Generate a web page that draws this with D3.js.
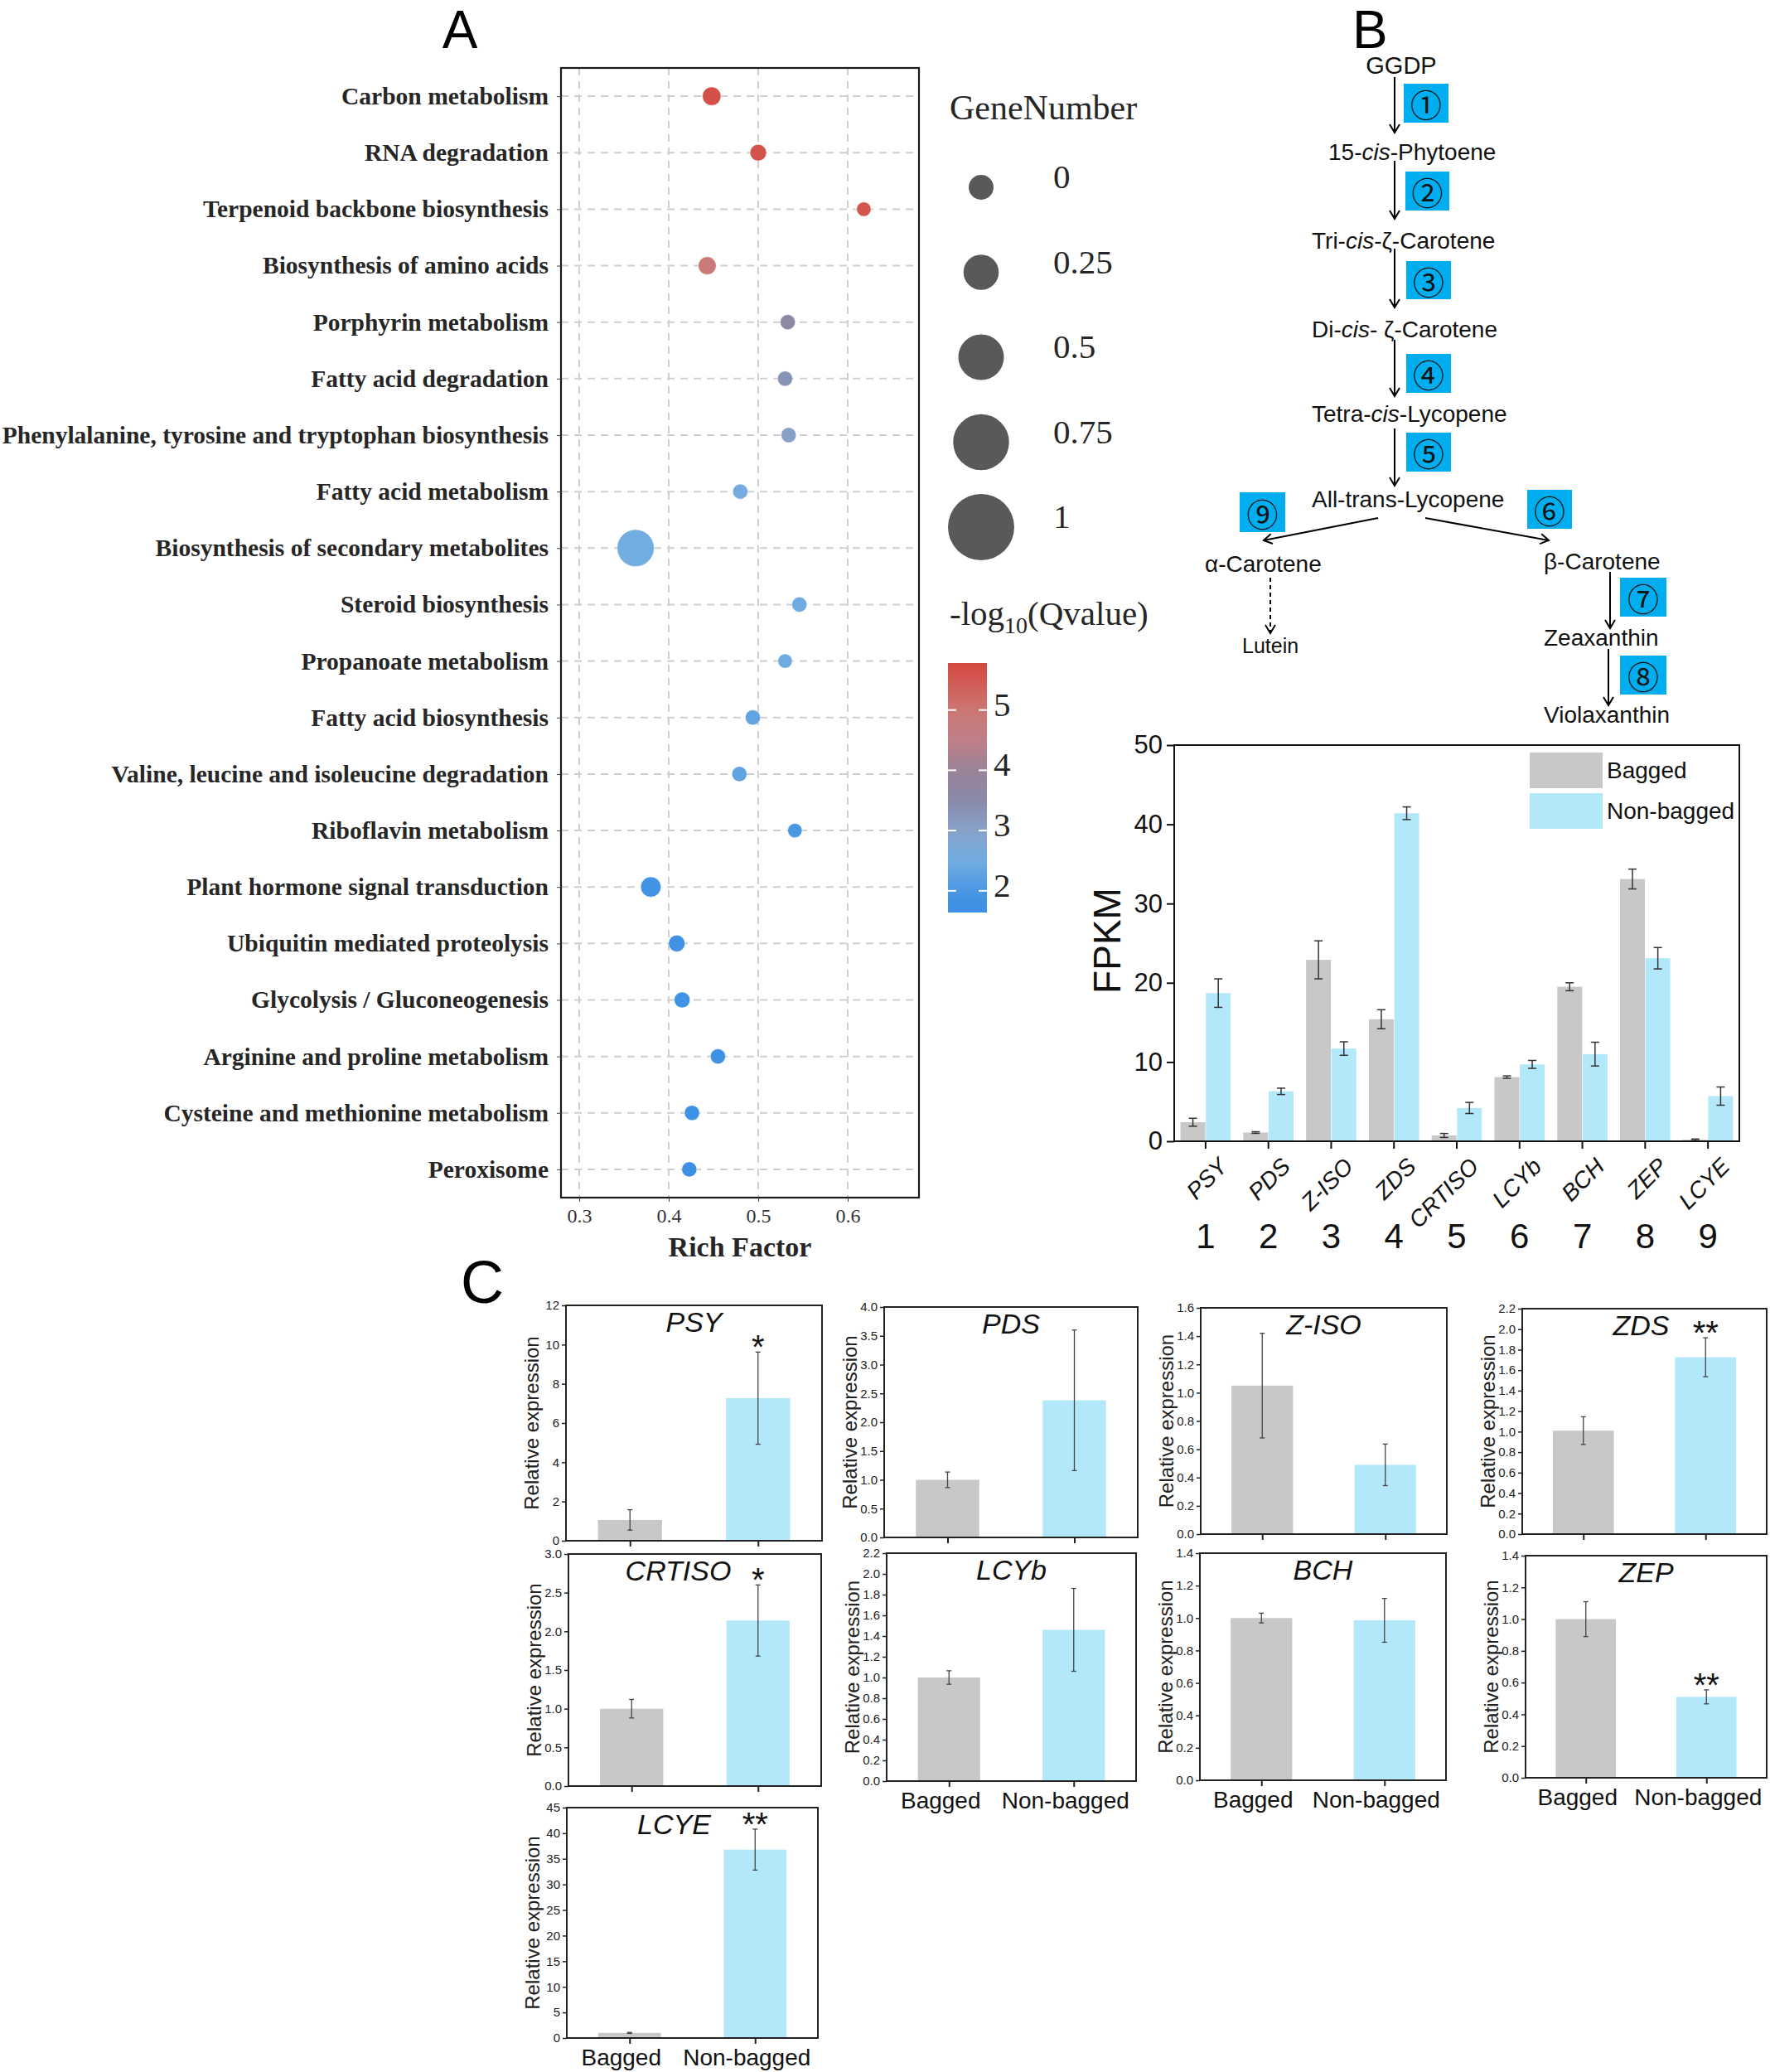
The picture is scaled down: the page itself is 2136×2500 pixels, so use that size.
<!DOCTYPE html>
<html><head><meta charset="utf-8">
<script src="https://cdn.jsdelivr.net/npm/d3@7/dist/d3.min.js"></script>
<style>body{margin:0;background:#fff}svg{display:block}</style>
</head><body>
<svg id="fig" width="2136" height="2500"></svg>
<script>
// ===== Panel A data (KEGG enrichment) =====
const pathways = ["Carbon metabolism","RNA degradation","Terpenoid backbone biosynthesis","Biosynthesis of amino acids","Porphyrin metabolism","Fatty acid degradation","Phenylalanine, tyrosine and tryptophan biosynthesis","Fatty acid metabolism","Biosynthesis of secondary metabolites","Steroid biosynthesis","Propanoate metabolism","Fatty acid biosynthesis","Valine, leucine and isoleucine degradation","Riboflavin metabolism","Plant hormone signal transduction","Ubiquitin mediated proteolysis","Glycolysis / Gluconeogenesis","Arginine and proline metabolism","Cysteine and methionine metabolism","Peroxisome"];
const richFactor = [0.448,0.500,0.618,0.443,0.533,0.530,0.534,0.480,0.363,0.546,0.530,0.494,0.479,0.541,0.380,0.409,0.415,0.455,0.426,0.423];
const negLogQ = [5.65,5.6,5.55,4.9,3.6,3.3,3.05,2.55,2.5,2.45,2.45,2.3,2.28,2.0,1.85,1.8,1.78,1.76,1.74,1.72];
const geneCount = [15,12,9,14,10,10,10,10,60,10,9,10,10,9,18,12,11,10,10,10];
const richTicks = [0.3,0.4,0.5,0.6];
const geneLegendValues = [0,0.25,0.5,0.75,1];
const colorbarTicks = [2,3,4,5];
const colorStops = [1.64,2.0,2.5,3.0,3.5,4.0,4.5,5.0,5.78];
const colorStopValues = ["#3a8ee5","#4a97e2","#72ade1","#86a2c9","#8a8aaa","#9a8298","#c08088","#cb7773","#d4483f"];

// ===== Panel B data (FPKM) =====
const genes = ["PSY","PDS","Z-ISO","ZDS","CRTISO","LCYb","BCH","ZEP","LCYE"];
const stepNumbers = ["1","2","3","4","5","6","7","8","9"];
const groups = ["Bagged","Non-bagged"];
const fpkmBagged = [2.4,1.1,22.9,15.4,0.73,8.1,19.5,33.1,0.18];
const fpkmBaggedErr = [0.5,0.1,2.4,1.2,0.25,0.15,0.5,1.25,0.1];
const fpkmNonBagged = [18.7,6.3,11.7,41.4,4.2,9.7,11.0,23.1,5.7];
const fpkmNonBaggedErr = [1.8,0.4,0.85,0.8,0.7,0.5,1.5,1.35,1.15];
const fpkmTicks = [0,10,20,30,40,50];

// ===== Panel C data (qRT-PCR) =====
const qGenes = ["PSY","PDS","Z-ISO","ZDS","CRTISO","LCYb","BCH","ZEP","LCYE"];
const qBagged = [1.06,1.0,1.05,1.01,1.0,1.0,1.0,1.0,1.0];
const qBaggedErr = [0.52,0.135,0.37,0.135,0.12,0.065,0.03,0.11,0.1];
const qNonBagged = [7.27,2.38,0.49,1.726,2.14,1.46,0.986,0.51,36.8];
const qNonBaggedErr = [2.35,1.22,0.147,0.19,0.46,0.4,0.135,0.044,4.0];
const qYMax = [12,4.0,1.6,2.2,3.0,2.2,1.4,1.4,45];
const qTickStep = [2,0.5,0.2,0.2,0.5,0.2,0.2,0.2,5];
const qSignif = ["*","","","**","*","","","**","**"];

// ===== Pathway diagram text =====
const compoundParts = [
 [["GGDP",0]],
 [["15-",0],["cis",1],["-Phytoene",0]],
 [["Tri-",0],["cis",1],["-ζ-Carotene",0]],
 [["Di-",0],["cis",1],["- ζ-Carotene",0]],
 [["Tetra-",0],["cis",1],["-Lycopene",0]],
 [["All-trans-Lycopene",0]],
 [["α-Carotene",0]],
 [["Lutein",0]],
 [["β-Carotene",0]],
 [["Zeaxanthin",0]],
 [["Violaxanthin",0]]
];
const stepLabels = ["①","②","③","④","⑤","⑥","⑦","⑧","⑨"];

// ---------- layout (not data) ----------
const compoundLayout = [
 {x:1691,y:79,a:"middle",s:29},{x:1603,y:183,s:28},{x:1583,y:290,s:28},{x:1583,y:397,s:28},
 {x:1583,y:499,s:28},{x:1583,y:602,s:28},{x:1454,y:680,s:28},{x:1499,y:779,s:25},
 {x:1863,y:677,s:28},{x:1863,y:769,s:28},{x:1863,y:862,s:28}
];
const stepBoxes = [[1694,101,1748,148],[1696,207,1749,254],[1697,315,1751,361],[1697,427,1751,474],[1697,522,1751,569],[1843,591,1897,638],[1955,697,2011,744],[1955,791,2011,838],[1496,594,1551,642]];
const arrowsLayout = [[1683,93,1683,160],[1683,194,1683,264],[1683,300,1683,371],[1683,410,1683,478],[1683,517,1683,586],[1663,625,1525,652],[1720,625,1869,652],[1943,690,1943,758],[1941,783,1941,851]];
const cLayout = [
 [683,1575,992,1859],[1067,1577,1373,1855],[1449,1578,1746,1851],[1837,1579,2132,1851],
 [686,1875,991,2155],[1070,1874,1371,2149],[1448,1874,1745,2148],[1841,1877,2132,2145],
 [684,2181,987,2459]
];
const cTitleDx = [0,0,0,-4,-20,0,0,0,-22];
const cShowX = [false,false,false,false,false,true,true,true,true];

const SERIF = "'Liberation Serif','Times New Roman',serif";
const SANS = "'Liberation Sans',Arial,Helvetica,sans-serif";
const GRAY = "#c8c8c8", BLUE = "#b3e8fb";

const svg = d3.select("#fig");
const defs = svg.append("defs");
defs.append("marker").attr("id","arr").attr("markerUnits","userSpaceOnUse")
  .attr("viewBox","-12 -8 14 16").attr("refX",0).attr("refY",0)
  .attr("markerWidth",14).attr("markerHeight",16).attr("orient","auto")
  .append("path").attr("d","M-10,-6 L0,0 L-10,6").attr("fill","none").attr("stroke","#000").attr("stroke-width",2);

// ================= PANEL A =================
const A = {x0:677,x1:1109,y0:82,y1:1445};
const ax = d3.scaleLinear().domain([0.3,0.6]).range([699,1023]);
const ay = d3.scalePoint().domain(pathways).range([A.y0,A.y1]).padding(0.5);
const qDomain = [colorStops[0],colorStops[colorStops.length-1]];
const color = d3.scaleLinear().domain(colorStops).range(colorStopValues).clamp(true);
const rScale = d3.scaleSqrt().domain([0,d3.max(geneCount)]).range([0,22.3]);
const gA = svg.append("g");

gA.selectAll("line.vg").data(richTicks).join("line").attr("class","vg")
  .attr("x1",d=>ax(d)).attr("x2",d=>ax(d)).attr("y1",A.y0).attr("y2",A.y1)
  .attr("stroke","#cfcfcf").attr("stroke-width",2).attr("stroke-dasharray","9,7");
gA.selectAll("line.hg").data(pathways).join("line").attr("class","hg")
  .attr("x1",A.x0).attr("x2",A.x1).attr("y1",d=>ay(d)).attr("y2",d=>ay(d))
  .attr("stroke","#cfcfcf").attr("stroke-width",2).attr("stroke-dasharray","9,7");

const dots = pathways.map((p,i)=>({p,rf:richFactor[i],q:negLogQ[i],n:geneCount[i]}));
gA.selectAll("circle.dot").data(dots).join("circle").attr("class","dot")
  .attr("cx",d=>ax(d.rf)).attr("cy",d=>ay(d.p)).attr("r",d=>rScale(d.n))
  .attr("fill",d=>color(d.q)).attr("stroke","#fff").attr("stroke-width",0.8).attr("stroke-opacity",0.6);

gA.append("rect").attr("x",A.x0).attr("y",A.y0).attr("width",A.x1-A.x0).attr("height",A.y1-A.y0)
  .attr("fill","none").attr("stroke","#1a1a1a").attr("stroke-width",2.2);

const axA = gA.append("g").attr("transform",`translate(0,${A.y1})`)
  .call(d3.axisBottom(ax).tickValues(richTicks).tickSize(5).tickPadding(8).tickFormat(d3.format(".1f")));
axA.select(".domain").remove();
axA.selectAll("line").attr("stroke","#444");
axA.selectAll("text").attr("font-family",SERIF).attr("font-size",24).attr("fill","#333");
const ayA = gA.append("g").attr("transform",`translate(${A.x0},0)`)
  .call(d3.axisLeft(ay).tickSize(5).tickPadding(10));
ayA.select(".domain").remove();
ayA.selectAll("line").attr("stroke","#444");
ayA.selectAll("text").attr("font-family",SERIF).attr("font-weight","bold").attr("font-size",29.5).attr("fill","#262626");

gA.append("text").attr("x",893).attr("y",1516).attr("text-anchor","middle")
  .attr("font-family",SERIF).attr("font-weight","bold").attr("font-size",34).attr("fill","#262626").text("Rich Factor");

// size legend
gA.append("text").attr("x",1146).attr("y",144).attr("font-family",SERIF).attr("font-size",42).attr("fill","#262626").text("GeneNumber");
const legR = d3.scaleLinear().domain([0,1]).range([15,40]);
const legY = d3.scalePoint().domain(geneLegendValues).range([226,636]);
gA.selectAll("circle.leg").data(geneLegendValues).join("circle").attr("class","leg")
  .attr("cx",1184).attr("cy",d=>legY(d)).attr("r",d=>legR(d)).attr("fill","#595959");
gA.selectAll("text.legt").data(geneLegendValues).join("text").attr("class","legt")
  .attr("x",1271).attr("y",d=>legY(d)+1).attr("font-family",SERIF).attr("font-size",41).attr("fill","#262626")
  .text(d=>d);

// color legend
const qt = gA.append("text").attr("x",1146).attr("y",754).attr("font-family",SERIF).attr("font-size",41).attr("fill","#262626");
qt.append("tspan").text("-log");
qt.append("tspan").attr("font-size",28).attr("dy",10).text("10");
qt.append("tspan").attr("dy",-10).text("(Qvalue)");
const cbY = d3.scaleLinear().domain(qDomain).range([1101,800]);
const grad = defs.append("linearGradient").attr("id","cbar").attr("x1",0).attr("y1",1).attr("x2",0).attr("y2",0);
grad.selectAll("stop").data(d3.range(0,1.0001,0.025)).join("stop")
  .attr("offset",d=>d).attr("stop-color",d=>color(qDomain[0]+d*(qDomain[1]-qDomain[0])));
gA.append("rect").attr("x",1144).attr("y",800).attr("width",47).attr("height",301).attr("fill","url(#cbar)");
gA.selectAll("line.cbt1").data(colorbarTicks).join("line").attr("class","cbt1")
  .attr("x1",1144).attr("x2",1154).attr("y1",d=>cbY(d)).attr("y2",d=>cbY(d)).attr("stroke","#fff").attr("stroke-width",2);
gA.selectAll("line.cbt2").data(colorbarTicks).join("line").attr("class","cbt2")
  .attr("x1",1181).attr("x2",1191).attr("y1",d=>cbY(d)).attr("y2",d=>cbY(d)).attr("stroke","#fff").attr("stroke-width",2);
gA.selectAll("text.cbl").data(colorbarTicks).join("text").attr("class","cbl")
  .attr("x",1199).attr("y",d=>cbY(d)+7).attr("font-family",SERIF).attr("font-size",41).attr("fill","#262626").text(d=>d);

// panel letters
svg.append("text").attr("x",555).attr("y",58).attr("text-anchor","middle").attr("font-family",SANS).attr("font-size",64).text("A");
svg.append("text").attr("x",1632).attr("y",58).attr("font-family",SANS).attr("font-size",64).text("B");
svg.append("text").attr("x",556).attr("y",1572).attr("font-family",SANS).attr("font-size",72).text("C");

// ================= PANEL B: pathway =================
const gP = svg.append("g");
gP.selectAll("line.arr").data(arrowsLayout).join("line").attr("class","arr")
  .attr("x1",d=>d[0]).attr("y1",d=>d[1]).attr("x2",d=>d[2]).attr("y2",d=>d[3])
  .attr("stroke","#000").attr("stroke-width",2).attr("marker-end","url(#arr)");
gP.append("line").attr("x1",1533).attr("y1",697).attr("x2",1533).attr("y2",764)
  .attr("stroke","#000").attr("stroke-width",2).attr("stroke-dasharray","5,4").attr("marker-end","url(#arr)");
gP.selectAll("rect.sb").data(stepBoxes).join("rect").attr("class","sb")
  .attr("x",d=>d[0]).attr("y",d=>d[1]).attr("width",d=>d[2]-d[0]).attr("height",d=>d[3]-d[1]).attr("fill","#00aeef");
gP.selectAll("text.sl").data(stepBoxes).join("text").attr("class","sl")
  .attr("x",d=>(d[0]+d[2])/2).attr("y",d=>(d[1]+d[3])/2).attr("text-anchor","middle").attr("dominant-baseline","central")
  .attr("font-family","'Noto Sans CJK SC','DejaVu Sans',serif").attr("font-size",38).attr("fill","#111")
  .text((d,i)=>stepLabels[i]);
compoundParts.forEach((parts,i)=>{
  const L = compoundLayout[i];
  const t = gP.append("text").attr("x",L.x).attr("y",L.y).attr("dominant-baseline","central")
    .attr("text-anchor",L.a||"start").attr("font-family",SANS).attr("font-size",L.s).attr("fill","#111");
  parts.forEach(p=>t.append("tspan").attr("font-style",p[1]?"italic":"normal").text(p[0]));
});

// ================= PANEL B: FPKM bars =================
const B = {x0:1417,x1:2099,y0:899,y1:1377};
const bx = d3.scaleBand().domain(genes).range([B.x0,B.x1]).paddingInner(0.2).paddingOuter(0.1);
const bsub = d3.scaleBand().domain(groups).range([0,bx.bandwidth()]).paddingInner(0.02);
const by = d3.scaleLinear().domain([0,50]).range([B.y1,B.y0]);
const gB = svg.append("g");
const bData = [];
genes.forEach((g,i)=>{
  bData.push({g,grp:"Bagged",v:fpkmBagged[i],e:fpkmBaggedErr[i]});
  bData.push({g,grp:"Non-bagged",v:fpkmNonBagged[i],e:fpkmNonBaggedErr[i]});
});
gB.selectAll("rect.bar").data(bData).join("rect").attr("class","bar")
  .attr("x",d=>bx(d.g)+bsub(d.grp)).attr("width",bsub.bandwidth())
  .attr("y",d=>by(d.v)).attr("height",d=>by(0)-by(d.v))
  .attr("fill",d=>d.grp==="Bagged"?GRAY:BLUE);
const ebB = gB.selectAll("g.eb").data(bData).join("g").attr("class","eb")
  .attr("transform",d=>`translate(${bx(d.g)+bsub(d.grp)+bsub.bandwidth()/2},0)`);
ebB.append("line").attr("y1",d=>by(d.v+d.e)).attr("y2",d=>by(Math.max(0,d.v-d.e))).attr("stroke","#333").attr("stroke-width",1.5);
ebB.append("line").attr("x1",-5).attr("x2",5).attr("y1",d=>by(d.v+d.e)).attr("y2",d=>by(d.v+d.e)).attr("stroke","#333").attr("stroke-width",1.5);
ebB.append("line").attr("x1",-5).attr("x2",5).attr("y1",d=>by(Math.max(0,d.v-d.e))).attr("y2",d=>by(Math.max(0,d.v-d.e))).attr("stroke","#333").attr("stroke-width",1.5);

gB.append("rect").attr("x",B.x0).attr("y",B.y0).attr("width",B.x1-B.x0).attr("height",B.y1-B.y0)
  .attr("fill","none").attr("stroke","#111").attr("stroke-width",2);
const byA = gB.append("g").attr("transform",`translate(${B.x0},0)`)
  .call(d3.axisLeft(by).tickValues(fpkmTicks).tickSize(9).tickPadding(5));
byA.select(".domain").remove();
byA.selectAll("line").attr("stroke","#111").attr("stroke-width",2);
byA.selectAll("text").attr("font-family",SANS).attr("font-size",31).attr("fill","#111");
const bxA = gB.append("g").attr("transform",`translate(0,${B.y1})`)
  .call(d3.axisBottom(bx).tickSize(9).tickFormat(""));
bxA.select(".domain").remove();
bxA.selectAll("line").attr("stroke","#111").attr("stroke-width",2);
gB.selectAll("text.gl").data(genes).join("text").attr("class","gl")
  .attr("transform",d=>`translate(${bx(d)+bx.bandwidth()/2+14},${B.y1+18}) rotate(-45)`)
  .attr("text-anchor","end").attr("dominant-baseline","hanging")
  .attr("font-family",SANS).attr("font-style","italic").attr("font-size",28).attr("fill","#111").text(d=>d);
gB.selectAll("text.sn").data(genes).join("text").attr("class","sn")
  .attr("x",d=>bx(d)+bx.bandwidth()/2).attr("y",1506).attr("text-anchor","middle")
  .attr("font-family",SANS).attr("font-size",42).attr("fill","#111").text((d,i)=>stepNumbers[i]);
gB.append("text").attr("transform","translate(1352,1135) rotate(-90)").attr("text-anchor","middle")
  .attr("font-family",SANS).attr("font-size",46).attr("fill","#111").text("FPKM");
const legB = d3.scalePoint().domain(groups).range([929,978]);
gB.selectAll("rect.lg").data(groups).join("rect").attr("class","lg")
  .attr("x",1846).attr("y",d=>legB(d)-21).attr("width",88).attr("height",43)
  .attr("fill",d=>d==="Bagged"?GRAY:BLUE);
gB.selectAll("text.lgt").data(groups).join("text").attr("class","lgt")
  .attr("x",1939).attr("y",d=>legB(d)).attr("dominant-baseline","central")
  .attr("font-family",SANS).attr("font-size",28).attr("fill","#111").text(d=>d);

// ================= PANEL C =================
qGenes.forEach((g,i)=>{
  const [x0,y0,x1,y1] = cLayout[i];
  const gC = svg.append("g");
  const cx = d3.scalePoint().domain(groups).range([x0,x1]).padding(0.5);
  const bw = (x1-x0)*0.25;
  const cy = d3.scaleLinear().domain([0,qYMax[i]]).range([y1,y0]);
  const dat = [{grp:"Bagged",v:qBagged[i],e:qBaggedErr[i]},{grp:"Non-bagged",v:qNonBagged[i],e:qNonBaggedErr[i]}];
  gC.selectAll("rect.cb").data(dat).join("rect").attr("class","cb")
    .attr("x",d=>cx(d.grp)-bw/2).attr("width",bw).attr("y",d=>cy(d.v)).attr("height",d=>cy(0)-cy(d.v))
    .attr("fill",d=>d.grp==="Bagged"?GRAY:BLUE);
  const eb = gC.selectAll("g.ceb").data(dat).join("g").attr("class","ceb").attr("transform",d=>`translate(${cx(d.grp)},0)`);
  eb.append("line").attr("y1",d=>cy(d.v+d.e)).attr("y2",d=>cy(d.v-d.e)).attr("stroke","#444").attr("stroke-width",1.3);
  eb.append("line").attr("x1",-3).attr("x2",3).attr("y1",d=>cy(d.v+d.e)).attr("y2",d=>cy(d.v+d.e)).attr("stroke","#444").attr("stroke-width",1.3);
  eb.append("line").attr("x1",-3).attr("x2",3).attr("y1",d=>cy(d.v-d.e)).attr("y2",d=>cy(d.v-d.e)).attr("stroke","#444").attr("stroke-width",1.3);
  gC.append("rect").attr("x",x0).attr("y",y0).attr("width",x1-x0).attr("height",y1-y0)
    .attr("fill","none").attr("stroke","#222").attr("stroke-width",2);
  const step = qTickStep[i];
  const ticks = d3.range(0,qYMax[i]+step/2,step);
  const fmt = step>=1?d3.format("d"):d3.format(".1f");
  const ya = gC.append("g").attr("transform",`translate(${x0},0)`)
    .call(d3.axisLeft(cy).tickValues(ticks).tickSize(5).tickPadding(3).tickFormat(fmt));
  ya.select(".domain").remove();
  ya.selectAll("line").attr("stroke","#222").attr("stroke-width",1.5);
  ya.selectAll("text").attr("font-family",SANS).attr("font-size",15).attr("fill","#222");
  const xa = gC.append("g").attr("transform",`translate(0,${y1})`)
    .call(d3.axisBottom(cx).tickSize(7).tickFormat(""));
  xa.select(".domain").remove();
  xa.selectAll("line").attr("stroke","#222").attr("stroke-width",2);
  if (cShowX[i]) {
    gC.selectAll("text.xl").data(groups).join("text").attr("class","xl")
      .attr("x",d=>cx(d)-10).attr("y",y1+23).attr("text-anchor","middle").attr("dominant-baseline","central")
      .attr("font-family",SANS).attr("font-size",28).attr("fill","#111").text(d=>d);
  }
  gC.append("text").attr("transform",`translate(${x0-42},${(y0+y1)/2}) rotate(-90)`).attr("text-anchor","middle")
    .attr("dominant-baseline","central").attr("font-family",SANS).attr("font-size",24).attr("fill","#222").text("Relative expression");
  gC.append("text").attr("x",(x0+x1)/2+cTitleDx[i]).attr("y",y0+20).attr("text-anchor","middle").attr("dominant-baseline","central")
    .attr("font-family",SANS).attr("font-style","italic").attr("font-size",34).attr("fill","#111").text(g);
  if (qSignif[i]) {
    gC.append("text").attr("x",cx("Non-bagged")).attr("y",cy(qNonBagged[i]+qNonBaggedErr[i])+8)
      .attr("text-anchor","middle").attr("font-family",SANS).attr("font-size",40).attr("fill","#111").text(qSignif[i]);
  }
});
</script>
</body></html>
